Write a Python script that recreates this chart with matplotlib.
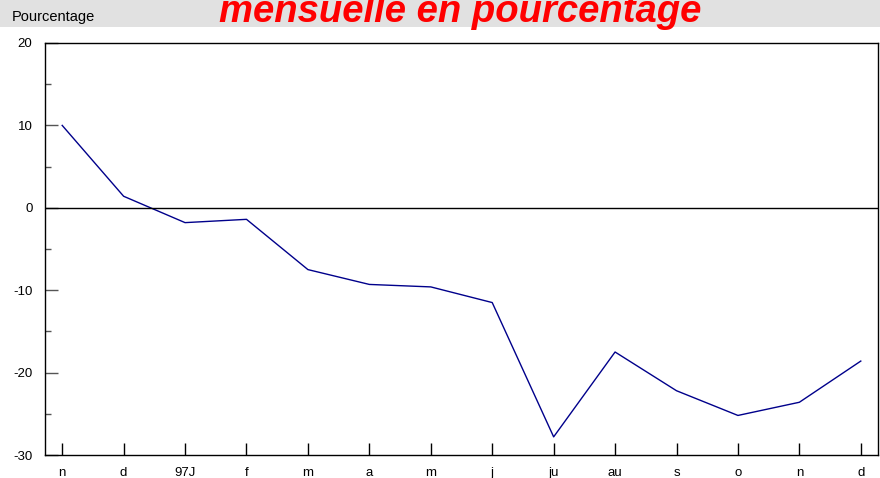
import matplotlib.pyplot as plt
from matplotlib.patches import Rectangle
from matplotlib.ticker import MultipleLocator

plt.rcParams['font.family'] = ['Liberation Sans', 'DejaVu Sans']
plt.rcParams['axes.unicode_minus'] = False

months = ['n', 'd', '97J', 'f', 'm', 'a', 'm', 'j', 'ju', 'au', 's', 'o', 'n', 'd']
values = [10.0, 1.4, -1.8, -1.4, -7.5, -9.3, -9.6, -11.5, -27.8, -17.5, -22.2, -25.2, -23.6, -18.6]

fig = plt.figure(figsize=(8.8, 4.78), dpi=100)
fig.patch.set_facecolor('white')

# gray title band at the top (title is partly cut off in the original)
fig.add_artist(Rectangle((0, 1 - 27 / 478), 1, 27 / 478, transform=fig.transFigure,
                         facecolor='#e1e1e1', edgecolor='none', zorder=0))
fig.text(460 / 880, 1 - 21.5 / 478, 'mensuelle en pourcentage', color='red',
         fontsize=27.5, fontweight='bold', fontstyle='italic', ha='center', va='baseline')
fig.text(12 / 880, 1 - 21.5 / 478, 'Pourcentage', fontsize=10.5, ha='left', va='baseline')

ax = fig.add_axes([45 / 880, 23 / 478, 833 / 880, 412 / 478])
x = list(range(len(months)))
ax.plot(x, values, color='#00008b', lw=1)
ax.axhline(0, color='black', lw=1)

ax.set_xlim(-0.28, len(months) - 1 + 0.28)
ax.set_ylim(-30, 20)
ax.set_xticks(x)
ax.set_xticklabels(months, va='baseline')
ax.yaxis.set_major_locator(MultipleLocator(10))
ax.yaxis.set_minor_locator(MultipleLocator(5))
ax.tick_params(axis='x', direction='in', length=9, width=1, pad=15, labelsize=9.5)
ax.tick_params(axis='y', which='major', direction='in', length=9, width=1, color='#555555',
               pad=9, labelsize=9.5)
ax.tick_params(axis='y', which='minor', direction='in', length=4, width=1, color='#555555')
for s in ax.spines.values():
    s.set_linewidth(1)

fig.savefig('out.png', dpi=100)
